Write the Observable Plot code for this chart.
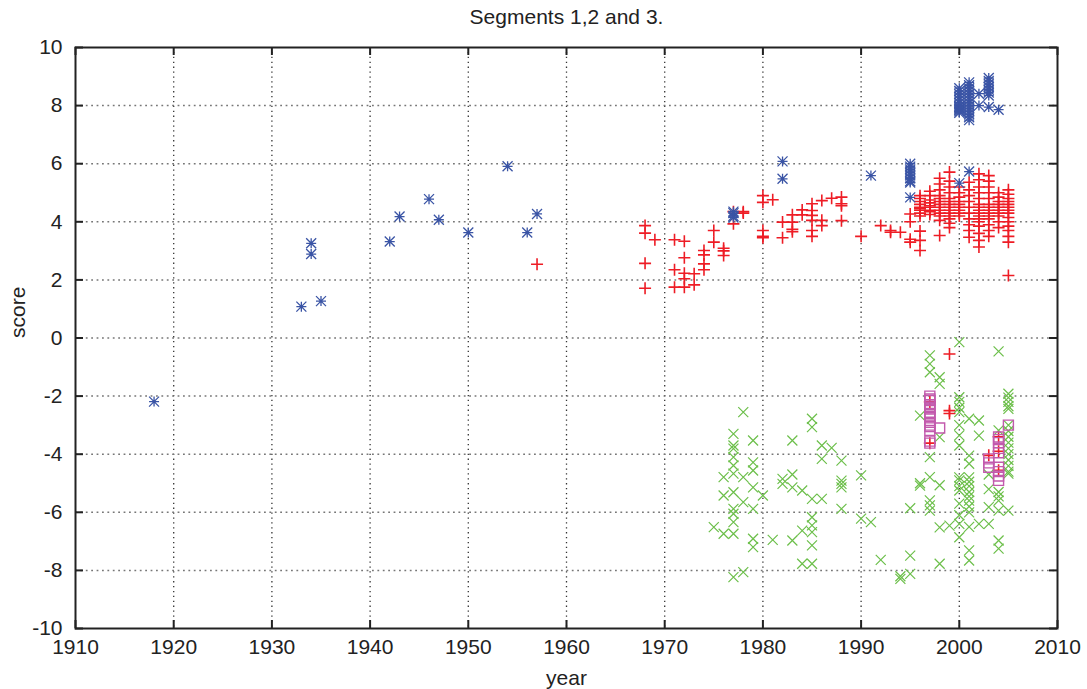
<!DOCTYPE html>
<html><head><meta charset="utf-8">
<script src="https://cdn.jsdelivr.net/npm/d3@7"></script>
<script src="https://cdn.jsdelivr.net/npm/@observablehq/plot@0.6"></script>
<style>body{margin:0;background:#fff} svg{display:block}</style>
</head><body><div id="chart"></div>
<script>
const title = "Segments 1,2 and 3.";
const xLabel = "year";
const yLabel = "score";
const xTicks = [1910,1920,1930,1940,1950,1960,1970,1980,1990,2000,2010];
const yTicks = [-10,-8,-6,-4,-2,0,2,4,6,8,10];

// series 1: blue asterisks  [year, scores]
const blueStars = [
  [1918,[-2.19]],[1933,[1.08]],[1934,[3.26,2.89]],[1935,[1.27]],[1942,[3.32]],[1943,[4.18]],
  [1946,[4.78]],[1947,[4.07]],[1950,[3.63]],[1954,[5.91]],[1956,[3.63]],[1957,[4.27]],
  [1977,[4.2,4.3,4.35,4.15]],[1982,[6.08,5.48]],[1991,[5.59]],
  [1995,[6.0,5.9,5.8,5.7,5.6,5.5,5.4,5.35,4.84]],
  [2000,[5.33,8.6,8.5,8.4,8.3,8.2,8.1,8.0,7.95,7.9,7.85,7.8,7.75]],
  [2001,[5.73,8.8,8.7,8.6,8.5,8.4,8.3,8.2,8.1,8.0,7.9,7.8,7.7,7.6,7.5]],
  [2002,[8.41,8.0]],[2003,[8.95,8.85,8.75,8.65,8.55,8.45,8.35,7.95]],[2004,[7.86]]
];
// series 2: red plus
const redPlus = [
  [1957,[2.54]],[1968,[3.87,3.61,2.57,1.71]],[1969,[3.38]],[1971,[3.38,2.35,1.75]],
  [1972,[3.33,2.76,2.23,2.04,1.75]],[1973,[2.21,1.83]],[1974,[3.01,2.86,2.55,2.35]],
  [1975,[3.7,3.3]],[1976,[3.09,3.0,2.84]],[1977,[3.93,4.35]],[1978,[4.35,4.3]],
  [1980,[4.9,4.67,3.7,3.5,3.45]],[1981,[4.76]],[1982,[3.99,3.45]],[1983,[4.24,3.99,3.74,3.66]],
  [1984,[4.41,4.24]],[1985,[4.62,4.39,4.22,4.05,3.7,3.5]],[1986,[4.73,4.05,3.87]],[1987,[4.81]],
  [1988,[4.85,4.62,4.55,4.04]],[1990,[3.5]],[1992,[3.87]],[1993,[3.7,3.64]],[1994,[3.64]],
  [1995,[4.27,4.0,3.4,3.3]],
  [1996,[4.9,4.8,4.7,4.6,4.5,4.45,4.4,4.3,4.2,3.68,3.36,3.01]],
  [1997,[5.05,4.9,4.75,4.65,4.55,4.5,4.4,4.35,4.25,-2.2,-3.62]],
  [1998,[5.5,5.3,5.1,4.9,4.8,4.7,4.6,4.5,4.4,4.3,4.2,4.05,3.53]],
  [1999,[5.71,5.4,5.2,5.0,4.8,4.7,4.6,4.5,4.4,4.3,4.2,4.1,3.95,3.8,-0.55,-2.5,-2.6]],
  [2000,[5.2,5.0,4.85,4.7,4.6,4.5,4.4,4.3,4.2]],
  [2001,[5.36,5.1,4.9,4.7,4.5,4.3,4.1,3.9,3.7,3.47]],
  [2002,[5.65,5.45,5.2,5.0,4.8,4.6,4.5,4.4,4.3,4.2,4.1,4.0,3.85,3.6,3.36,3.13]],
  [2003,[5.59,5.4,5.2,5.0,4.8,4.6,4.5,4.4,4.3,4.2,4.1,3.9,3.7,3.5,-4.04]],
  [2004,[5.0,4.85,4.7,4.6,4.5,4.4,4.3,4.2,4.0,3.8,-3.4,-3.9,-4.55]],
  [2005,[5.1,4.95,4.8,4.7,4.6,4.5,4.4,4.3,4.15,4.0,3.85,3.7,3.5,3.3,2.15]]
];
// series 3: green crosses
const greenCross = [
  [1975,[-6.51]],[1976,[-4.79,-5.42,-6.74]],
  [1977,[-3.3,-3.7,-3.81,-4.1,-4.39,-4.67,-5.31,-5.88,-6.05,-6.34,-6.74,-8.23]],
  [1978,[-2.55,-4.79,-5.65,-8.06]],[1979,[-3.53,-4.28,-4.56,-5.14,-5.88,-6.91,-7.2]],
  [1980,[-5.42]],[1981,[-6.95]],[1982,[-4.85,-5.02]],[1983,[-3.53,-4.7,-5.14,-6.97]],
  [1984,[-5.25,-6.63,-7.77]],[1985,[-2.78,-3.07,-5.54,-6.17,-6.45,-6.68,-7.14,-7.77]],
  [1986,[-3.7,-4.16,-5.54]],[1987,[-3.78]],[1988,[-4.22,-4.91,-5.02,-5.14,-5.88]],
  [1990,[-4.73,-6.22]],[1991,[-6.34]],[1992,[-7.64]],[1994,[-8.29,-8.2]],
  [1995,[-8.12,-7.49,-5.86]],[1996,[-5.08,-2.67,-5.0]],
  [1997,[-0.6,-0.89,-1.18,-4.1,-4.79,-5.59,-5.76,-5.94]],
  [1998,[-1.35,-1.58,-3.41,-5.07,-6.52,-7.77]],[1999,[-6.46]],
  [2000,[-0.14,-2.04,-2.2,-2.4,-2.55,-3.0,-3.35,-3.7,-4.8,-4.9,-5.1,-5.25,-5.7,-6.1,-6.4,-6.86]],
  [2001,[-2.78,-4.05,-4.33,-4.8,-4.95,-5.1,-5.3,-5.45,-5.6,-5.8,-6.0,-6.5,-7.31,-7.66]],
  [2002,[-2.84,-3.36,-6.4]],[2003,[-4.7,-5.2,-5.82,-6.4]],
  [2004,[-0.46,-3.18,-5.3,-5.45,-5.6,-5.94,-6.97,-7.25]],
  [2005,[-1.92,-2.05,-2.2,-2.35,-2.44,-3.0,-3.2,-3.4,-3.6,-3.8,-4.0,-4.2,-4.4,-4.6,-4.67,-5.94]]
];
// series 4: magenta squares
const magentaSquares = [
  [1997,[-2.0,-2.1,-2.15,-2.3,-2.4,-2.45,-2.6,-2.7,-2.75,-2.9,-3.0,-3.05,-3.18,-3.55,-3.62]],
  [1998,[-3.1]],[2003,[-4.16,-4.3,-4.45]],
  [2004,[-3.41,-3.5,-3.6,-3.8,-3.95,-4.45,-4.6,-4.75,-4.9]],[2005,[-3.0]]
];

const flat = (g) => g.flatMap(([year, scores]) => scores.map(score => ({year, score})));

const sq = Math.sqrt, PI = Math.PI;
const plusSym = {draw(c, s){const r = sq(s/PI); c.moveTo(-r,0); c.lineTo(r,0); c.moveTo(0,-r); c.lineTo(0,r);}};
const timesSym = {draw(c, s){const r = sq(s/PI); c.moveTo(-r,-r); c.lineTo(r,r); c.moveTo(-r,r); c.lineTo(r,-r);}};
const starSym = {draw(c, s){const r = sq(s/PI); c.moveTo(-r,0); c.lineTo(r,0); c.moveTo(0,-r); c.lineTo(0,r); c.moveTo(-r,-r); c.lineTo(r,r); c.moveTo(-r,r); c.lineTo(r,-r);}};
const squareSym = {draw(c, s){const r = sq(s/PI); c.rect(-r,-r,2*r,2*r);}};

const W = 1087, H = 689, ML = 75, MR = 30, MT = 47, MB = 61;
const FW = W - ML - MR, FH = H - MT - MB;
const fmt = d => String(d);
const FS = 21;

const chart = Plot.plot({
  width: W, height: H,
  marginLeft: ML, marginRight: MR, marginTop: MT, marginBottom: MB,
  x: {domain: [1910, 2010]},
  y: {domain: [-10, 10]},
  style: {fontFamily: "'Liberation Sans', Arial, Helvetica, sans-serif", fontSize: FS + "px", color: "#222", background: "#fff"},
  marks: [
    Plot.gridX(xTicks.slice(1, -1), {stroke: "#111", strokeOpacity: 0.85, strokeWidth: 1.3, strokeDasharray: "1.3,3.6"}),
    Plot.gridY(yTicks.slice(1, -1), {stroke: "#777", strokeOpacity: 1, strokeWidth: 1.5, strokeDasharray: "1.8,3.6"}),
    Plot.dot(flat(redPlus), {x: "year", y: "score", symbol: plusSym, r: 6, fill: "none", stroke: "#ee1c25", strokeWidth: 1.6}),
    Plot.dot(flat(greenCross), {x: "year", y: "score", symbol: timesSym, r: 5, fill: "none", stroke: "#6cbf4a", strokeWidth: 1.2}),
    Plot.dot(flat(blueStars), {x: "year", y: "score", symbol: starSym, r: 5, fill: "none", stroke: "#3a54a5", strokeWidth: 1.3}),
    Plot.dot(flat(magentaSquares), {x: "year", y: "score", symbol: squareSym, r: 5, fill: "none", stroke: "#c25aad", strokeWidth: 1.4}),
    Plot.ruleY(yTicks, {insetRight: FW - 8, stroke: "#222", strokeWidth: 2}),
    Plot.ruleY(yTicks, {insetLeft: FW - 8, stroke: "#222", strokeWidth: 2}),
    Plot.ruleX(xTicks, {insetTop: FH - 8, stroke: "#222", strokeWidth: 2}),
    Plot.ruleX(xTicks, {insetBottom: FH - 8, stroke: "#222", strokeWidth: 2}),
    Plot.frame({stroke: "#222", strokeWidth: 2}),
    Plot.axisX(xTicks, {tickSize: 0, tickPadding: 11, tickFormat: fmt, label: null, fontSize: FS}),
    Plot.axisY(yTicks, {tickSize: 0, tickPadding: 13, tickFormat: fmt, label: null, fontSize: FS}),
    Plot.text([title], {frameAnchor: "top", dy: -30, lineAnchor: "middle", fontSize: FS, fill: "#222"}),
    Plot.text([xLabel], {frameAnchor: "bottom", dy: 50, lineAnchor: "middle", fontSize: FS, fill: "#222"}),
    Plot.text([yLabel], {frameAnchor: "left", dx: -57, rotate: -90, fontSize: FS, fill: "#222"})
  ]
});
document.getElementById("chart").append(chart);
</script>
</body></html>
